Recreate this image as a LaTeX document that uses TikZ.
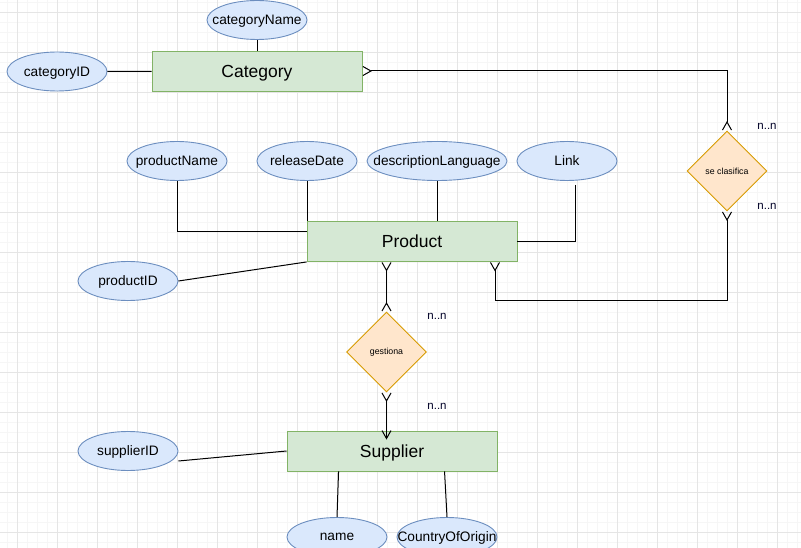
\documentclass[tikz,border=0pt]{standalone}
\usepackage{fontspec}
\setmainfont{Liberation Sans}
\usetikzlibrary{arrows.meta,positioning,calc,shapes.geometric}
\usepackage{xcolor}
\definecolor{egreen}{HTML}{D5E8D4}
\definecolor{egreenline}{HTML}{82B366}
\definecolor{ablue}{HTML}{DAE8FC}
\definecolor{abline}{HTML}{6C8EBF}
\definecolor{rorange}{HTML}{FFE6CC}
\definecolor{rorline}{HTML}{D79B00}
\tikzset{crow/.tip={Straight Barb[reversed,length=8pt,width=9pt]},
  foot/.tip={Straight Barb[length=8pt,width=9pt]}}

\begin{document}
\begin{tikzpicture}[x=1pt, y=-1pt,
  entity/.style={draw=egreenline, fill=egreen, line width=0.9pt, minimum width=210pt,
    minimum height=40pt, inner sep=0pt, text depth=0pt, font=\fontsize{17.5}{20}\selectfont},
  attr/.style={ellipse, draw=abline, fill=ablue, line width=0.9pt, minimum width=100pt,
    minimum height=39pt, inner xsep=-30pt, inner ysep=0pt, text depth=0pt,
    font=\fontsize{13.7}{16}\selectfont},
  rel/.style={diamond, draw=rorline, fill=rorange, line width=0.9pt, minimum width=80pt,
    minimum height=80pt, inner sep=0pt, font=\fontsize{8.8}{10}\selectfont},
  card/.style={font=\fontsize{11.5}{13}\selectfont, text=black!85!blue},
  conn/.style={line width=1pt}]
\useasboundingbox (0,0) rectangle (801,548);
% ---------- grid ----------
\foreach \x in {7,17,...,797}{\draw[gray!7] (\x,0) -- (\x,548);}
\foreach \y in {2,12,...,542}{\draw[gray!7] (0,\y) -- (801,\y);}
\foreach \x in {17,57,...,797}{\draw[gray!20] (\x,0) -- (\x,548);}
\foreach \y in {12,52,...,542}{\draw[gray!20] (0,\y) -- (801,\y);}
% ---------- category ----------
\node[entity] (category) at (257,71) {Category};
\node[attr] (categoryName) at (257,20) {categoryName};
\node[attr] (categoryID) at (57,71.5) {categoryID};
\draw[conn] (categoryID) -- (category);
\draw[conn] (categoryName) -- (category);
% ---------- product ----------
\node[entity] (product) at (412,241.5) {Product};
\node[attr] (productName) at (177,161) {productName};
\node[attr] (releaseDate) at (307,161) {releaseDate};
\node[attr, minimum width=140pt] (descLanguage) at (437,161) {descriptionLanguage};
\node[attr] (link) at (567,161) {Link};
\node[attr] (productID) at (128,281) {productID};
\draw[conn] (productName.south) |- ($(product.west)+(0,-10)$);
\draw[conn] (releaseDate.south) -- (releaseDate.south |- product.north);
\draw[conn] (descLanguage.south) -- (descLanguage.south |- product.north);
\draw[conn] ($(link.south)+(8,4)$) |- (product.east);
\draw[conn] (productID.east) -- (product.south west);
% ---------- supplier ----------
\node[entity] (supplier) at (392,451) {Supplier};
\node[attr] (supplierID) at (128,451) {supplierID};
\node[attr] (name) at (337,537) {name};
\node[attr] (country) at (447,537) {CountryOfOrigin};
\draw[conn] ($(supplierID.east)+(0,10)$) -- (supplier.west);
\draw[conn] (name.north) -- ($(supplier.south west)+(52,0)$);
\draw[conn] (country.north) -- ($(supplier.south west)+(158,0)$);
% ---------- relationships ----------
\node[rel] (clasifica) at (727,171) {se clasifica};
\node[rel] (gestiona) at (386.5,352) {gestiona};
\node[card] (cardA) at (767,126) {n..n};
\node[card] (cardB) at (767,206) {n..n};
\node[card] (cardC) at (437,316) {n..n};
\node[card] (cardD) at (437,406) {n..n};
\coordinate (catEnd) at ($(product.south)+(83,0)$);
\coordinate (supEnd) at ($(supplier.north -| gestiona.south)+(0,9)$);
\draw[conn, crow-crow] (category.east) -| (clasifica.north);
\draw[conn, crow-crow] (clasifica.south) -- ++(0,89) -| (catEnd);
\draw[conn, crow-crow] (product.south -| gestiona.north) -- (gestiona.north);
\draw[conn, crow-foot] (gestiona.south) -- (supEnd);
\end{tikzpicture}
\end{document}
